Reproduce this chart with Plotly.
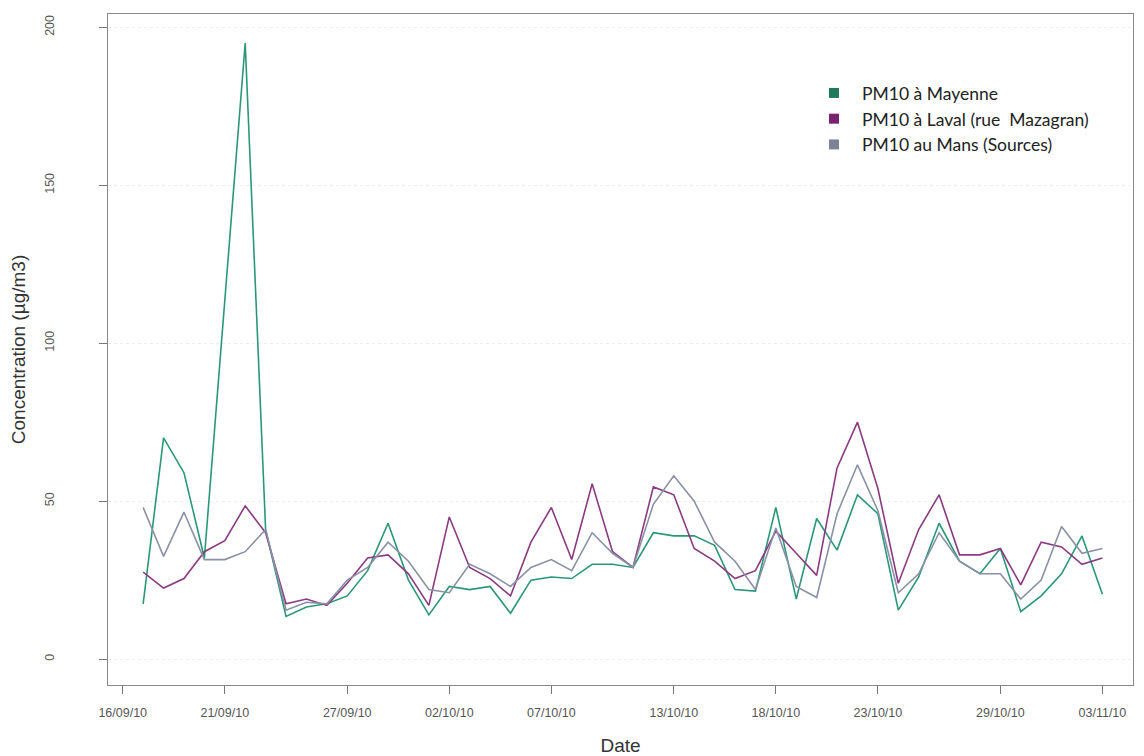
import pandas as pd
import plotly.graph_objects as go

# Dates (one measurement per day, 17/09/2010 -> 03/11/2010)
dates = pd.date_range("2010-09-17", "2010-11-03", freq="D")

mayenne = [17.5, 70, 59, 32, None, 195, 41, 13.5, 16.5, 17.5,
           20, 28, 43, 25, 14, 23, 22, 23, 14.5, 25,
           26, 25.5, 30, 30, 29, 40, 39, 39, 36, 22,
           21.5, 48, 19, 44.5, 34.5, 52, 46, 15.5, 26, 43,
           31, 27, 35, 15, 20, 27, 39, 20.5]

laval = [27.5, 22.5, 25.5, 34, 37.5, 48.5, 40, 17.5, 19, 17,
         24, 32, 33, 27, 17, 45, 29, 25.5, 20, 37,
         48, 31.5, 55.5, 34, 29, 54.5, 52, 35, 31, 25.5,
         28, 40.5, 33.5, 26.5, 60.5, 75, 54, 24, 41, 52,
         33, 33, 35, 23.5, 37, 35.5, 30, 32]

mans = [48, 32.5, 46.5, 31.5, 31.5, 34, 41, 15.5, 18, 17.5,
        25, 29, 37, 31, 22, 21, 30, 27, 23, 29,
        31.5, 28, 40, 33.5, 29, 49, 58, 50, 37, 31,
        22, 41.5, 23, 19.5, 46, 61.5, 47, 21, 27, 40,
        31, 27, 27, 19, 25, 42, 33.5, 35]

series_names = ["PM10 à Mayenne", "PM10 à Laval (rue  Mazagran)", "PM10 au Mans (Sources)"]
line_colors = ["#2a9878", "#8a3a82", "#8a91a6"]
swatch_colors = ["#1f7a5c", "#7a2270", "#7c8398"]

tick_dates = ["2010-09-16", "2010-09-21", "2010-09-27", "2010-10-02", "2010-10-07",
              "2010-10-13", "2010-10-18", "2010-10-23", "2010-10-29", "2010-11-03"]
tick_labels = ["16/09/10", "21/09/10", "27/09/10", "02/10/10", "07/10/10",
               "13/10/10", "18/10/10", "23/10/10", "29/10/10", "03/11/10"]
y_ticks = [0, 50, 100, 150, 200]

fig = go.Figure()
for vals, col in zip([mayenne, laval, mans], line_colors):
    fig.add_trace(go.Scatter(x=dates, y=vals, mode="lines", connectgaps=True,
                             line=dict(color=col, width=1.6), showlegend=False))
for name, col in zip(series_names, swatch_colors):
    fig.add_trace(go.Scatter(x=[None], y=[None], mode="markers", name=name,
                             marker=dict(symbol="square", size=10, color=col)))

# page body has an 8px margin: figure is sized/offset so the plot box lands at 108..1133 x 14..685
fig.update_layout(
    width=1136, height=748,
    margin=dict(l=100, r=11, t=6, b=71),
    paper_bgcolor="white", plot_bgcolor="white",
    font=dict(family="Liberation Sans, Arial, sans-serif", color="#444"),
    legend=dict(x=0.681, y=0.909, xanchor="left", yanchor="top",
                bgcolor="rgba(255,255,255,0)", borderwidth=0,
                font=dict(family="Lato, Open Sans, Arial", size=17.5, color="#222"),
                itemwidth=46, tracegroupgap=0),
)
fig.update_xaxes(
    type="date", automargin=False,
    range=["2010-09-15 06:40", "2010-11-04 12:00"],
    tickvals=tick_dates, ticktext=tick_labels,
    ticks="outside", ticklen=8, tickcolor="#777",
    tickfont=dict(size=12.5, color="#555"),
    ticklabelstandoff=8,
    showline=True, linecolor="#888", linewidth=1, mirror=True,
    showgrid=False, zeroline=False,
    title=dict(text="Date", font=dict(size=19, color="#333"), standoff=20),
)
fig.update_yaxes(
    automargin=False,
    range=[-8.2, 204.2],
    tickvals=y_ticks, ticktext=[str(v) for v in y_ticks],
    tickangle=-90,
    ticks="outside", ticklen=8, tickcolor="#777",
    tickfont=dict(size=12.5, color="#555"),
    ticklabelstandoff=40,
    showline=True, linecolor="#888", linewidth=1, mirror=True,
    showgrid=True, gridcolor="#eeeeee", griddash="dot", gridwidth=1,
    zeroline=False,
    title=dict(text="Concentration (µg/m3)", font=dict(size=19, color="#333"), standoff=14),
)

fig.write_html("out.html")
